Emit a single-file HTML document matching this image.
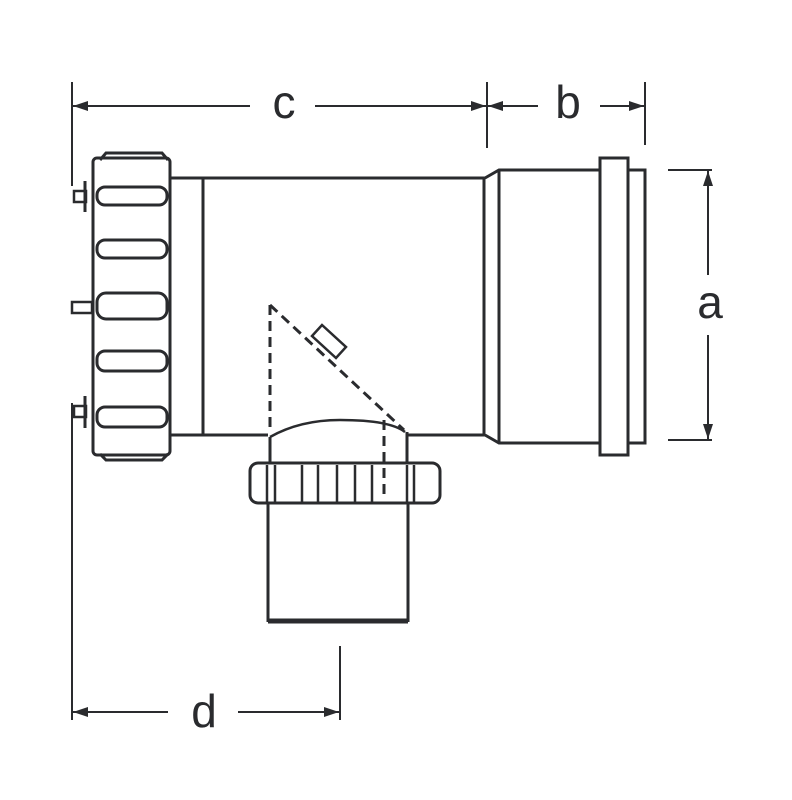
<!DOCTYPE html>
<html><head><meta charset="utf-8"><style>html,body{margin:0;padding:0;background:#fff}svg{display:block}</style></head>
<body>
<svg width="792" height="800" viewBox="0 0 792 800" xmlns="http://www.w3.org/2000/svg">
<g stroke="#2a2b2e" fill="none" stroke-width="3">
<!-- dimension c,b -->
<line x1="72" y1="82" x2="72" y2="186" stroke-width="2"/>
<line x1="487" y1="82" x2="487" y2="148" stroke-width="2"/>
<line x1="645" y1="82" x2="645" y2="145" stroke-width="2"/>
<line x1="250" y1="106" x2="73" y2="106" stroke-width="2"/>
<line x1="315" y1="106" x2="486" y2="106" stroke-width="2"/>
<line x1="538" y1="106" x2="488" y2="106" stroke-width="2"/>
<line x1="600" y1="106" x2="644" y2="106" stroke-width="2"/>
<!-- dimension a -->
<line x1="668" y1="170" x2="712" y2="170" stroke-width="2"/>
<line x1="668" y1="440" x2="712" y2="440" stroke-width="2"/>
<line x1="708" y1="275" x2="708" y2="171" stroke-width="2"/>
<line x1="708" y1="335" x2="708" y2="439" stroke-width="2"/>
<!-- dimension d -->
<line x1="72" y1="403" x2="72" y2="720" stroke-width="2"/>
<line x1="340" y1="646" x2="340" y2="720" stroke-width="2"/>
<line x1="168" y1="712" x2="73" y2="712" stroke-width="2"/>
<line x1="238" y1="712" x2="339" y2="712" stroke-width="2"/>

<!-- main pipe -->
<line x1="170" y1="178" x2="485" y2="178"/>
<line x1="170" y1="435" x2="268" y2="435"/>
<line x1="408" y1="435" x2="485" y2="435"/>
<line x1="203" y1="178" x2="203" y2="435"/>
<line x1="484" y1="178" x2="484" y2="435"/>
<path d="M485,178 L499,170 L600,170"/>
<path d="M485,435 L499,443 L600,443"/>
<line x1="499" y1="170" x2="499" y2="443"/>
<rect x="600" y="158" width="28" height="297"/>
<path d="M628,170 H645 V443 H628"/>

<!-- left nut -->
<path d="M100,160 L106,153 H162 L168,160" />
<path d="M100,454 L106,460 H162 L168,454" />
<rect x="93" y="158" width="77" height="297" rx="4"/>
<rect x="97" y="187" width="70" height="18" rx="8"/>
<rect x="97" y="240" width="70" height="18" rx="8"/>
<rect x="97" y="293" width="70" height="26" rx="9"/>
<rect x="97" y="351" width="70" height="20" rx="8"/>
<rect x="97" y="407" width="70" height="20" rx="8"/>
<!-- bolts -->
<rect x="74" y="191" width="12" height="11" stroke-width="2.5"/>
<line x1="85" y1="181" x2="85" y2="212" stroke-width="3"/>
<rect x="72" y="302" width="20" height="11" stroke-width="2.5"/>
<rect x="74" y="406" width="12" height="11" stroke-width="2.5"/>
<line x1="85" y1="396" x2="85" y2="428" stroke-width="3"/>

<!-- branch -->
<path d="M270,437 Q300,420 340,420 Q390,420 405,432" stroke-width="2.5"/>
<line x1="270" y1="437" x2="270" y2="464"/>
<line x1="407" y1="432" x2="407" y2="464"/>
<g stroke-dasharray="10,6" stroke-width="3">
<line x1="270" y1="305" x2="270" y2="432"/>
<line x1="270" y1="305" x2="404" y2="430"/>
<line x1="384" y1="420" x2="384" y2="500"/>
</g>
<path d="M312,336 L322,325 L346,347 L336,358 Z" stroke-width="2.5" fill="#fff"/>
<rect x="250" y="463" width="190" height="40" rx="8"/>
<g stroke-width="2.5">
<line x1="267" y1="465" x2="267" y2="502"/><line x1="275" y1="465" x2="275" y2="502"/>
<line x1="302" y1="465" x2="302" y2="502"/><line x1="318" y1="465" x2="318" y2="502"/>
<line x1="337" y1="465" x2="337" y2="502"/><line x1="355" y1="465" x2="355" y2="502"/>
<line x1="372" y1="465" x2="372" y2="502"/><line x1="407" y1="465" x2="407" y2="502"/>
<line x1="414" y1="465" x2="414" y2="502"/>
</g>
<line x1="268" y1="503" x2="268" y2="622"/>
<line x1="408" y1="503" x2="408" y2="622"/>
<line x1="268" y1="621" x2="408" y2="621" stroke-width="5"/>
</g>
<g fill="#2a2b2e">
<polygon points="73,106 88,101 88,111"/>
<polygon points="486,106 471,101 471,111"/>
<polygon points="488,106 503,101 503,111"/>
<polygon points="644,106 629,101 629,111"/>
<polygon points="708,171 703,186 713,186"/>
<polygon points="708,439 703,424 713,424"/>
<polygon points="73,712 88,707 88,717"/>
<polygon points="339,712 324,707 324,717"/>
</g>
<g font-family="Liberation Sans, sans-serif" font-size="46" fill="#2a2b2e" text-anchor="middle">
<text x="284" y="118">c</text>
<text x="568" y="118">b</text>
<text x="710" y="318">a</text>
<text x="204" y="727">d</text>
</g>
</svg>
</body></html>
